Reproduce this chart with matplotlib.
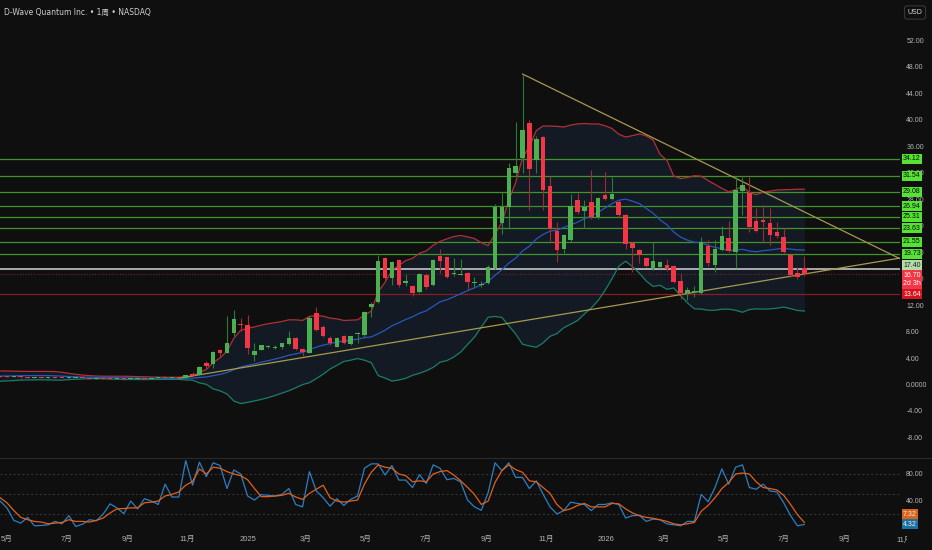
import numpy as np
import pandas as pd
import matplotlib
matplotlib.use('Agg')
import matplotlib.pyplot as plt
import matplotlib.dates as mdates
from matplotlib.transforms import Bbox, blended_transform_factory

plt.rcParams['font.family'] = ['Liberation Sans', 'Noto Sans CJK SC']

# --- weekly candles (first candle week of 2024-04-24) ---
first_week = '2024-04-24'
opens = [1.28, 1.22, 1.12, 1.17, 1.10, 1.04, 1.08, 1.00, 1.04, 0.98,
         0.95, 1.02, 1.08, 0.95, 0.90, 0.93, 0.86, 0.80, 0.84, 0.79,
         0.86, 0.90, 0.84, 0.93, 1.00, 0.95, 1.03, 0.98, 1.60, 1.45,
         3.20, 3.10, 5.20, 4.80, 7.80, 9.20, 9.00, 4.50, 5.26, 5.65,
         5.55, 5.60, 6.10, 7.10, 5.40, 4.80, 10.75, 8.73, 7.07, 5.71,
         7.37, 6.07, 7.58, 7.52, 11.66, 12.46, 19.15, 16.13, 18.76, 15.40,
         14.88, 13.93, 16.59, 14.98, 19.40, 19.20, 16.70, 16.60, 16.84, 15.40,
         15.10, 15.38, 17.60, 24.35, 26.86, 32.00, 34.20, 39.50, 33.90, 37.40,
         30.00, 23.20, 20.40, 21.80, 27.90, 26.25, 27.60, 25.26, 28.67, 28.00,
         27.60, 25.56, 21.40, 20.30, 19.06, 17.45, 17.80, 18.05, 17.90, 15.60,
         13.78, 13.90, 13.87, 20.90, 18.00, 20.30, 22.13, 20.06, 29.23, 28.97,
         24.70, 24.85, 24.35, 23.10, 22.30, 19.50, 16.80, 17.60]
highs = [1.36, 1.30, 1.24, 1.22, 1.16, 1.14, 1.12, 1.10, 1.07, 1.03,
         1.08, 1.14, 1.10, 0.99, 0.98, 0.95, 0.89, 0.88, 0.86, 0.90,
         0.95, 0.93, 0.97, 1.05, 1.04, 1.08, 1.08, 1.50, 1.90, 2.85,
         3.60, 5.10, 5.30, 10.40, 11.25, 10.00, 10.50, 6.20, 6.00, 5.90,
         5.90, 6.30, 8.10, 7.20, 5.50, 10.40, 11.75, 9.00, 7.30, 7.20,
         7.50, 7.40, 8.00, 11.10, 12.50, 19.56, 19.30, 18.70, 18.90, 16.70,
         15.00, 16.90, 16.80, 19.00, 20.40, 19.30, 19.06, 18.90, 17.00, 16.30,
         15.60, 18.00, 27.30, 29.10, 33.40, 39.70, 46.90, 40.00, 37.50, 37.60,
         31.50, 24.60, 22.80, 28.80, 29.00, 27.87, 32.40, 28.30, 32.10, 31.40,
         27.80, 25.70, 21.60, 20.40, 19.20, 21.60, 18.70, 18.90, 18.00, 16.80,
         14.77, 14.90, 22.30, 21.80, 21.80, 24.00, 24.70, 31.50, 31.40, 31.40,
         26.60, 27.10, 26.60, 24.60, 23.60, 19.60, 17.80, 19.40]
lows = [1.15, 1.08, 1.06, 1.05, 1.00, 1.00, 0.96, 0.97, 0.94, 0.92,
        0.93, 1.00, 0.92, 0.86, 0.87, 0.83, 0.76, 0.78, 0.75, 0.77,
        0.84, 0.80, 0.82, 0.90, 0.91, 0.93, 0.92, 0.95, 1.30, 1.40,
        2.40, 2.45, 4.30, 4.70, 7.30, 8.10, 4.60, 3.60, 5.20, 5.50,
        5.30, 5.40, 6.00, 5.20, 4.35, 4.70, 8.10, 7.20, 6.00, 5.60,
        6.10, 6.00, 6.20, 7.20, 10.25, 12.30, 15.80, 15.00, 14.80, 14.90,
        13.40, 13.80, 14.50, 14.90, 16.80, 16.10, 16.40, 16.50, 14.27, 14.80,
        14.80, 15.20, 17.40, 22.80, 23.60, 31.50, 31.90, 26.40, 31.90, 26.40,
        21.60, 18.46, 19.80, 21.50, 25.80, 23.60, 25.00, 25.00, 27.80, 27.80,
        25.30, 20.50, 16.95, 18.30, 17.80, 17.30, 17.60, 17.20, 15.30, 12.87,
        12.76, 13.27, 13.60, 17.90, 17.00, 20.10, 20.00, 17.55, 25.60, 23.00,
        23.00, 21.30, 21.07, 22.20, 19.80, 16.30, 15.90, 16.40]
closes = [1.20, 1.12, 1.18, 1.10, 1.05, 1.08, 1.00, 1.04, 0.98, 0.96,
          1.02, 1.08, 0.95, 0.90, 0.93, 0.86, 0.80, 0.84, 0.79, 0.86,
          0.90, 0.84, 0.93, 1.00, 0.95, 1.03, 0.96, 1.40, 1.35, 2.70,
          2.80, 4.95, 4.80, 6.30, 9.85, 9.00, 5.56, 5.10, 5.92, 5.75,
          5.65, 6.20, 7.10, 5.30, 4.95, 10.00, 8.23, 7.37, 6.22, 7.07,
          6.22, 7.33, 7.80, 10.90, 12.16, 18.70, 16.13, 18.50, 14.98, 15.60,
          13.87, 16.70, 14.68, 18.76, 18.70, 16.28, 16.90, 16.75, 15.44, 15.55,
          15.25, 17.70, 26.86, 26.86, 32.75, 33.00, 38.40, 32.55, 37.10, 29.40,
          23.50, 20.30, 22.60, 26.96, 26.06, 26.86, 25.26, 28.10, 28.00, 28.80,
          25.56, 21.18, 20.67, 19.56, 17.95, 18.70, 18.50, 17.40, 15.50, 13.78,
          14.27, 14.00, 21.57, 18.40, 20.40, 22.40, 20.20, 29.40, 30.14, 23.75,
          23.20, 24.60, 22.58, 22.43, 19.97, 16.54, 16.20, 16.70]
# closes before the visible window (needed for the 20-week Bollinger band)
prior_closes = [0.75, 0.80, 0.70, 0.85, 1.05, 0.95, 1.10, 1.60, 1.95, 2.05,
                1.85, 1.70, 1.55, 1.40, 1.30, 1.20, 1.15, 1.10, 1.20]

# --- Stoch RSI pane ---
stoch_k = [39.4, 29.0, 10.4, 6.3, 15.0, 2.3, 2.8, 3.8, 8.9, 5.3,
           17.5, 1.3, 4.8, 11.4, 9.9, 20.0, 35.3, 29.0, 20.6, 39.4,
           27.7, 42.9, 39.4, 34.3, 64.8, 45.5, 45.5, 100.0, 63.2, 97.8,
           75.9, 96.8, 92.7, 58.2, 86.1, 80.0, 47.0, 40.9, 49.0, 48.0,
           47.0, 49.5, 58.2, 34.3, 30.7, 83.6, 54.6, 44.4, 31.7, 42.9,
           32.8, 41.9, 47.0, 88.6, 95.2, 95.2, 78.5, 92.7, 70.9, 70.9,
           59.7, 79.0, 65.8, 93.7, 88.6, 71.4, 73.4, 68.0, 41.0, 30.7,
           25.6, 52.1, 96.8, 85.1, 96.8, 74.9, 74.9, 58.2, 69.8, 49.5,
           30.7, 20.0, 25.1, 37.8, 35.8, 34.3, 25.1, 34.3, 34.3, 36.8,
           34.3, 14.0, 17.5, 18.0, 8.9, 12.4, 11.4, 5.3, 3.8, 2.3,
           8.9, 8.9, 49.5, 38.3, 59.7, 87.6, 64.8, 90.2, 93.7, 59.7,
           57.1, 64.8, 54.6, 53.1, 36.8, 17.5, 2.3, 4.32]
stoch_d = [44.4, 36.8, 25.1, 15.0, 11.4, 8.9, 7.9, 5.3, 6.3, 7.4,
           11.4, 8.9, 8.9, 7.9, 10.4, 14.0, 21.6, 27.7, 28.2, 29.2,
           29.2, 36.8, 37.8, 39.4, 47.0, 49.5, 53.1, 63.2, 68.8, 87.6,
           80.0, 90.2, 88.6, 83.6, 80.0, 77.5, 71.4, 58.2, 46.0, 46.0,
           47.0, 48.0, 51.0, 45.5, 41.9, 51.0, 57.1, 63.2, 44.4, 39.4,
           37.8, 39.4, 40.9, 64.8, 82.6, 93.7, 90.2, 88.6, 80.0, 77.5,
           68.3, 69.8, 68.3, 80.0, 83.6, 85.1, 78.5, 69.8, 60.0, 49.5,
           34.3, 39.4, 67.3, 85.1, 93.7, 86.6, 82.5, 69.8, 68.3, 59.7,
           51.0, 34.3, 25.1, 27.7, 32.8, 35.8, 30.7, 30.7, 30.7, 35.8,
           35.3, 27.7, 21.6, 17.5, 15.0, 13.5, 11.4, 8.9, 5.3, 3.8,
           5.3, 7.4, 24.1, 32.8, 44.4, 58.2, 67.3, 80.0, 81.5, 80.0,
           68.3, 59.7, 58.2, 56.1, 48.0, 34.3, 19.0, 7.32]

# --- drawn levels / trendlines ---
green_levels = [34.12, 31.54, 29.08, 26.94, 25.31, 23.63, 21.55, 19.73]
gray_level = 17.40
last_price = 16.70
countdown = '2d 3h'
red_level = 13.64
trend_down_dates = ['2025-10-08 00:00', '2026-10-27 10:00']
trend_down_prices = [46.9, 19.0]
trend_up_dates = ['2024-10-23 00:00', '2026-10-27 10:00']
trend_up_prices = [0.95, 19.1]

price_ticks = [-8, -4, 0, 4, 8, 12, 16, 20, 24, 28, 32, 36, 40, 44, 48, 52]
price_tick_labels = ['-8.00', '-4.00', '0.0000', '4.00', '8.00', '12.00', '16.00', '20.00',
                     '24.00', '28.00', '32.00', '36.00', '40.00', '44.00', '48.00', '52.00']
month_ticks = pd.date_range('2024-05-01', '2026-11-01', freq='2MS')

BG = '#0f0f0f'
UP, DOWN = '#4caf50', '#f23645'
UP_WICK, DOWN_WICK = '#2f7a34', '#9e2c36'
TXT = '#b5b5b5'

dates = pd.date_range(first_week, periods=len(closes), freq='7D')
xd = mdates.date2num(dates)
o = np.array(opens); h = np.array(highs); l = np.array(lows); c = np.array(closes)

# Bollinger band 20, 2
allc = pd.Series(prior_closes + closes)
mid = allc.rolling(20).mean().values[len(prior_closes):]
sd = allc.rolling(20).std(ddof=0).values[len(prior_closes):]
upper = mid + 2 * sd
lower = mid - 2 * sd

W, H = 932, 550
fig = plt.figure(figsize=(W / 100, H / 100), dpi=100, facecolor=BG)
ax = fig.add_axes([0, 1 - 457 / H, 900 / W, 457 / H], facecolor=BG)
ax2 = fig.add_axes([0, 1 - 530 / H, 900 / W, 72 / H], facecolor=BG, sharex=ax)

for a in (ax, ax2):
    for s in a.spines.values():
        s.set_visible(False)

x_left = mdates.date2num(pd.Timestamp('2024-04-23 21:00'))
x_right = mdates.date2num(pd.Timestamp('2026-10-27 10:00'))
ax.set_xlim(x_left, x_right)
ax.set_ylim(-10.95, 58.08)

# band
ax.fill_between(xd, lower, upper, color='#131a23', lw=0, zorder=1)
ax.plot(xd, upper, color='#b3303a', lw=0.9, zorder=3)
ax.plot(xd, mid, color='#2758be', lw=0.9, zorder=3)
ax.plot(xd, lower, color='#1b7d66', lw=0.9, zorder=3)

# horizontal levels
for lv in green_levels:
    ax.axhline(lv, color='#3f952c', lw=0.9, zorder=2)
ax.axhline(gray_level, color='#c4c4c4', lw=1.2, zorder=2)
ax.axhline(last_price, color='#7d1f27', lw=0.8, ls=(0, (1, 1.5)), zorder=2)
ax.axhline(red_level, color='#8a1d24', lw=0.9, zorder=2)

# trendlines
fmt = '%Y-%m-%d %H:%M'
ax.plot(mdates.date2num(pd.to_datetime(trend_down_dates, format=fmt)), trend_down_prices,
        color='#a59a4e', lw=0.9, zorder=4)
ax.plot(mdates.date2num(pd.to_datetime(trend_up_dates, format=fmt)), trend_up_prices,
        color='#a59a4e', lw=0.9, zorder=4)

# candles
up = c >= o
body_w = 4.6
ax.vlines(xd[up], l[up], h[up], color=UP_WICK, lw=0.8, zorder=5)
ax.vlines(xd[~up], l[~up], h[~up], color=DOWN_WICK, lw=0.8, zorder=5)
bottom = np.minimum(o, c)
height = np.maximum(np.abs(c - o), 0.15)
ax.bar(xd[up], height[up], bottom=bottom[up], width=body_w, color=UP, lw=0, zorder=6)
ax.bar(xd[~up], height[~up], bottom=bottom[~up], width=body_w, color=DOWN, lw=0, zorder=6)

# price axis
ax.yaxis.tick_right()
ax.set_yticks(price_ticks)
ax.set_yticklabels(price_tick_labels)
ax.tick_params(axis='y', length=0, pad=4.5, labelsize=5, labelcolor=TXT)
ax.tick_params(axis='x', length=0, labelbottom=False)


def tag(axis, y, text, fc, tc, dy=0):
    axis.annotate(text, xy=(1, y), xycoords=blended_transform_factory(axis.transAxes, axis.transData),
                  xytext=(2.2, dy), textcoords='offset points', ha='left', va='center',
                  fontsize=5, color=tc, annotation_clip=False, zorder=10,
                  bbox=dict(boxstyle='square,pad=0.22', fc=fc, ec='none'))


for lv in green_levels:
    tag(ax, lv, f'{lv:.2f}', '#55e234', '#0a0a0a')
tag(ax, gray_level, f'{gray_level:.2f}', '#b3dca8', '#1a1a1a', dy=3)
tag(ax, last_price, f'{last_price:.2f}\n{countdown}', DOWN, 'white', dy=-4)
tag(ax, red_level, f'{red_level:.2f}', '#d7141e', 'white')

# oscillator pane
ax2.set_ylim(-4, 104)
for lv in (80, 50, 20):
    ax2.axhline(lv, color='#3a3a3a', lw=0.7, ls=(0, (2, 2.5)), zorder=1)
ax2.plot(xd, stoch_k, color='#2b7fc3', lw=0.9, zorder=3)
ax2.plot(xd, stoch_d, color='#e2601b', lw=0.9, zorder=4)
ax2.yaxis.tick_right()
ax2.set_yticks([40, 80])
ax2.set_yticklabels(['40.00', '80.00'])
ax2.tick_params(axis='y', length=0, pad=4.5, labelsize=5, labelcolor=TXT)
tag(ax2, stoch_d[-1], f'{stoch_d[-1]:.2f}', '#d9621e', '#f3f3d2', dy=6)
tag(ax2, stoch_k[-1], f'{stoch_k[-1]:.2f}', '#1d6fa6', '#f3f3d2', dy=0)

ax2.set_xticks(mdates.date2num(month_ticks[:-1]))
ax2.set_xticklabels([str(d.year) if d.month == 1 else f'{d.month}月' for d in month_ticks[:-1]])
ax2.tick_params(axis='x', length=0, pad=4, labelsize=5.5, labelcolor=TXT)

# last month label, cut by the price scale
last_x = ax2.transData.transform((mdates.date2num(month_ticks[-1]), 0))[0]
t = fig.text(last_x / W, 1 - 540 / H, f'{month_ticks[-1].month}月', ha='center', va='center',
             fontsize=5.5, color=TXT)
t.set_clip_box(Bbox.from_extents(0, 0, 907, H))
t.set_clip_on(True)

# pane separator
fig.add_artist(plt.Line2D([0, 1], [1 - 457.5 / H, 1 - 457.5 / H], transform=fig.transFigure,
                          color='#2a2a2a', lw=0.8))

# header
fig.text(4 / W, 1 - 12 / H, 'D-Wave Quantum Inc. • 1周 • NASDAQ', ha='left', va='center',
         fontsize=5.5, color='#cfcfcf', family=['DejaVu Sans', 'Noto Sans CJK SC'])
fig.text(915 / W, 1 - 12.5 / H, 'USD', ha='center', va='center', fontsize=5, color='#d6d6d6',
         bbox=dict(boxstyle='round,pad=0.45,rounding_size=0.4', fc=BG, ec='#3c3c3c', lw=0.7))

fig.savefig('out.png', dpi=100, facecolor=BG)
